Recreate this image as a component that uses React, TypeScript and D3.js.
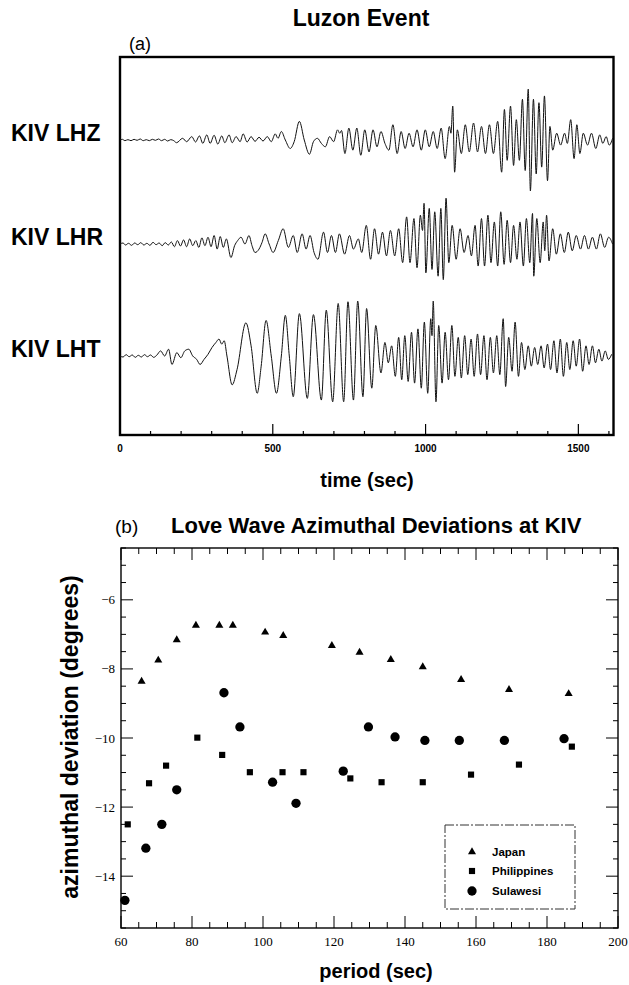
import React from "react";
import * as d3 from "d3";

// ---------- Panel (a): seismogram extrema [time s, amplitude] ----------
const traceNames = ["KIV LHZ", "KIV LHR", "KIV LHT"];

const lhz: [number, number][] = [
  [0,0],[8,2],[16,-2],[26,1],[36,-2],[46,2],[56,-1],[66,3],[76,-2],[86,1],[96,-2],[106,2],[116,-1],[126,3],[136,-2],[146,2],[156,-3],[166,1],[176,-2],
  [185,-8],[205,5],[218,-5],[235,10],[247,-6],[260,12],[271,-10],[284,15],[295,-10],[308,14],[320,-12],[333,12],[343,-8],[357,15],[367,-8],[380,10],[393,-5],[403,18],[416,-6],[429,10],[442,-4],[455,8],[468,-3],[482,10],[495,-5],[508,18],[517,5],[528,25],[541,0],[557,-25],[570,-5],[587,55],[603,0],[620,-42],[633,-5],[646,5],[659,-10],[672,-20],[686,10],[699,-5],[712,30],[719,20],[725,28],[736,-40],[749,35],[762,-30],[775,35],[788,-45],[801,30],[815,-35],[828,30],[841,-20],[854,25],[867,-10],[880,-30],[893,45],[907,-40],[920,25],[933,-25],[946,20],[959,-20],[972,30],[986,-30],[999,30],[1012,-20],[1025,25],[1038,-25],[1051,35],[1064,-55],[1078,40],[1083,20],[1089,100],[1095,-95],[1104,30],[1117,-40],[1130,45],[1143,-35],[1157,50],[1170,-35],[1183,40],[1196,-40],[1209,45],[1222,-40],[1236,55],[1249,-95],[1258,90],[1267,-60],[1278,100],[1288,-75],[1297,60],[1307,-60],[1317,120],[1326,-90],[1336,150],[1343,-150],[1353,120],[1362,-100],[1371,110],[1380,-80],[1389,130],[1399,-120],[1407,40],[1416,-30],[1429,20],[1442,-15],[1455,20],[1464,-10],[1475,60],[1486,-55],[1495,45],[1505,-40],[1516,20],[1530,-15],[1543,20],[1557,-25],[1570,15],[1580,-10],[1591,10],[1601,-15],[1612,5]
];

const lhr: [number, number][] = [
  [0,0],[10,3],[18,-3],[28,2],[38,-4],[48,3],[58,-2],[68,4],[78,-3],[88,2],[98,-4],[108,5],[118,-2],[128,3],[138,-5],[148,4],[158,-3],[168,6],[178,-8],[188,10],[198,-6],[208,12],[218,-8],[228,15],[238,-5],[248,10],[258,-10],[268,18],[278,-5],[288,20],[298,-8],[308,25],[318,-15],[328,22],[338,-10],[348,15],[363,-40],[375,-5],[385,10],[396,20],[409,0],[422,25],[432,-5],[442,-25],[455,-15],[465,5],[475,30],[488,0],[501,-25],[518,10],[534,45],[551,-10],[567,25],[580,-25],[596,30],[609,-15],[622,25],[635,-25],[648,-45],[666,35],[679,-25],[692,25],[705,-25],[718,30],[735,-30],[751,25],[764,-15],[780,15],[791,-25],[806,55],[820,-45],[833,45],[846,-30],[859,35],[872,-35],[885,40],[899,-35],[912,45],[925,-55],[938,80],[949,-55],[962,75],[972,-70],[983,85],[990,40],[995,120],[1001,-85],[1012,105],[1021,-75],[1030,95],[1041,-95],[1050,105],[1058,-105],[1067,135],[1076,-55],[1087,55],[1100,-45],[1113,45],[1126,-25],[1139,25],[1150,-35],[1162,55],[1172,-65],[1183,75],[1193,-65],[1204,85],[1214,-55],[1225,65],[1236,-65],[1246,95],[1257,-60],[1267,70],[1278,-55],[1288,55],[1299,-45],[1309,65],[1320,-65],[1330,75],[1341,-55],[1350,90],[1354,-95],[1364,75],[1375,-55],[1385,65],[1390,-20],[1396,85],[1404,-50],[1416,45],[1428,-30],[1441,30],[1454,-25],[1467,35],[1480,-20],[1493,25],[1507,-15],[1520,25],[1533,-15],[1546,20],[1559,-15],[1572,30],[1586,-10],[1599,20],[1612,0]
];

const lht: [number, number][] = [
  [0,0],[10,-3],[20,4],[30,-2],[40,3],[50,-4],[60,2],[70,-3],[80,4],[90,-2],[100,3],[110,-4],[120,2],[133,15],[146,0],[159,20],[170,-25],[186,10],[199,-5],[212,15],[225,20],[238,0],[251,-10],[262,-25],[275,-10],[288,5],[301,25],[314,40],[324,50],[333,35],[341,45],[350,0],[367,-85],[383,-40],[412,98],[429,30],[449,-110],[462,-30],[478,105],[495,0],[512,-110],[528,0],[541,120],[554,0],[567,-120],[587,125],[613,-125],[633,122],[659,-130],[675,135],[696,-135],[714,155],[732,-135],[746,160],[764,-130],[778,162],[795,-120],[807,140],[824,-95],[837,90],[854,-50],[867,40],[878,-20],[889,30],[901,-60],[912,55],[922,-70],[932,60],[943,-75],[954,70],[964,-80],[975,80],[986,-95],[996,100],[1007,-110],[1017,110],[1021,60],[1025,162],[1034,-135],[1043,90],[1054,-80],[1064,70],[1075,-70],[1086,90],[1096,-60],[1107,55],[1117,-65],[1128,60],[1138,-55],[1149,50],[1159,-60],[1170,65],[1180,-55],[1191,60],[1201,-70],[1212,55],[1222,-50],[1233,60],[1243,-55],[1254,110],[1262,-90],[1272,55],[1283,-45],[1293,100],[1304,-60],[1314,40],[1325,-40],[1336,30],[1346,-30],[1357,25],[1367,-25],[1378,30],[1388,-35],[1399,35],[1409,-40],[1420,45],[1430,-50],[1441,50],[1451,-60],[1462,40],[1472,-40],[1483,45],[1493,-30],[1504,50],[1514,-45],[1525,30],[1535,-25],[1546,30],[1556,-20],[1567,20],[1577,-15],[1588,15],[1598,-10],[1609,5]
];

const timeTicks = d3.range(0, 1601, 100);
const timeLabels = [0, 500, 1000, 1500];

// ---------- Panel (b): azimuthal deviations ----------
const japanPeriod = [65.8, 70.5, 75.7, 81.1, 87.7, 91.5, 100.6, 105.7, 119.4, 127.2, 136.0, 145.0, 155.8, 169.3, 186.1];
const japanDev = [-8.36, -7.75, -7.16, -6.74, -6.74, -6.74, -6.94, -7.04, -7.33, -7.52, -7.73, -7.94, -8.31, -8.6, -8.72];

const philPeriod = [61.9, 67.9, 72.7, 81.5, 88.5, 96.3, 105.5, 111.4, 124.6, 133.4, 145.0, 158.6, 172.1, 187.0];
const philDev = [-12.5, -11.31, -10.8, -9.99, -10.49, -10.99, -10.99, -10.99, -11.17, -11.28, -11.28, -11.06, -10.77, -10.25];

const sulPeriod = [61.1, 67.0, 71.5, 75.7, 89.0, 93.5, 102.7, 109.3, 122.6, 129.7, 137.2, 145.6, 155.3, 168.0, 184.8];
const sulDev = [-14.7, -13.19, -12.5, -11.5, -8.69, -9.68, -11.28, -11.89, -10.96, -9.68, -9.97, -10.07, -10.07, -10.07, -10.02];

const periodTicks = [60, 80, 100, 120, 140, 160, 180, 200];
const devTicks = [-6, -8, -10, -12, -14];
const legendNames = ["Japan", "Philippines", "Sulawesi"];

const SANS = "'Liberation Sans', Arial, Helvetica, sans-serif";
const SERIF = "'Liberation Serif', 'Times New Roman', serif";

export default function App() {
  // panel (a) geometry
  const aLeft = 120, aRight = 613.5, aTop = 57, aBottom = 435;
  const xT = d3.scaleLinear().domain([0, 1615]).range([aLeft, aRight]);
  const baselines = [140, 244, 356];
  const ampPerPx = 2.95;
  const traces = [lhz, lhr, lht];

  const tracePaths = traces.map((tr, i) => {
    const y = d3.scaleLinear().domain([-ampPerPx * 100, ampPerPx * 100]).range([baselines[i] + 100, baselines[i] - 100]);
    const line = d3.line<[number, number]>().x(d => xT(d[0])).y(d => y(d[1])).curve(d3.curveMonotoneX);
    return line(tr) || "";
  });

  // panel (b) geometry
  const bLeft = 121, bRight = 618, bTop = 548, bBottom = 928;
  const xP = d3.scaleLinear().domain([60, 200]).range([bLeft, bRight]);
  const yD = d3.scaleLinear().domain([-15.5, -4.5]).range([bBottom, bTop]);

  const minorX = d3.range(60, 200.1, 5);
  const minorY = d3.range(-15.5, -4.49, 0.5);

  const tri = d3.symbol(d3.symbolTriangle, 28)() || "";
  const sq = d3.symbol(d3.symbolSquare, 38)() || "";
  const circ = d3.symbol(d3.symbolCircle, 68)() || "";

  const legendX = 472;
  const legendRows = [852, 871, 891];
  const legendSyms = [tri, sq, circ];

  return (
    <svg width={629} height={985} style={{ position: "fixed", left: 0, top: 0, background: "#fff" }} xmlns="http://www.w3.org/2000/svg">
      <rect x={0} y={0} width={629} height={985} fill="#fff" />
      {/* ---------- Panel (a) ---------- */}
      <text x={361} y={26} textAnchor="middle" fontFamily={SANS} fontWeight="bold" fontSize={23}>Luzon Event</text>
      <text x={129} y={50} fontFamily={SANS} fontSize={18}>(a)</text>
      <rect x={aLeft} y={aTop} width={aRight - aLeft} height={aBottom - aTop} fill="none" stroke="#000" strokeWidth={2.4} />
      {timeTicks.map(t => (
        <line key={"tt" + t} x1={xT(t)} x2={xT(t)} y1={aBottom} y2={aBottom - (t % 500 === 0 && t > 0 ? 11 : 4)} stroke="#000" strokeWidth={1.2} />
      ))}
      {timeLabels.map(t => (
        <text key={"tl" + t} x={xT(t)} y={452} textAnchor="middle" fontFamily={SANS} fontWeight="bold" fontSize={10}>{t}</text>
      ))}
      <text x={367} y={487} textAnchor="middle" fontFamily={SANS} fontWeight="bold" fontSize={20}>time (sec)</text>
      {traceNames.map((n, i) => (
        <text key={n} x={11} y={baselines[i] + 1} fontFamily={SANS} fontWeight="bold" fontSize={23}>{n}</text>
      ))}
      {tracePaths.map((p, i) => (
        <path key={"tr" + i} d={p} fill="none" stroke="#111" strokeWidth={1} />
      ))}

      {/* ---------- Panel (b) ---------- */}
      <text x={115} y={533} fontFamily={SANS} fontSize={19}>(b)</text>
      <text x={171} y={533} fontFamily={SANS} fontWeight="bold" fontSize={22}>Love Wave Azimuthal Deviations at KIV</text>
      <rect x={bLeft} y={bTop} width={bRight - bLeft} height={bBottom - bTop} fill="none" stroke="#000" strokeWidth={1.4} />
      {minorX.map(v => {
        const major = Math.abs(v % 20) < 1e-6;
        const len = major ? 12 : 6;
        return (
          <g key={"px" + v}>
            <line x1={xP(v)} x2={xP(v)} y1={bBottom} y2={bBottom - len} stroke="#000" strokeWidth={1} />
            <line x1={xP(v)} x2={xP(v)} y1={bTop} y2={bTop + len} stroke="#000" strokeWidth={1} />
          </g>
        );
      })}
      {minorY.map(v => {
        const major = Math.abs(v % 2) < 1e-6;
        const len = major ? 12 : 5;
        return (
          <g key={"py" + v}>
            <line x1={bLeft} x2={bLeft + len} y1={yD(v)} y2={yD(v)} stroke="#000" strokeWidth={1} />
            <line x1={bRight} x2={bRight - len} y1={yD(v)} y2={yD(v)} stroke="#000" strokeWidth={1} />
          </g>
        );
      })}
      {periodTicks.map(v => (
        <text key={"pl" + v} x={xP(v)} y={946} textAnchor="middle" fontFamily={SERIF} fontSize={13}>{v}</text>
      ))}
      {devTicks.map(v => (
        <text key={"dl" + v} x={115} y={yD(v) + 4.5} textAnchor="end" fontFamily={SERIF} fontSize={13}>{"\u2212" + Math.abs(v)}</text>
      ))}
      <text x={376} y={978} textAnchor="middle" fontFamily={SANS} fontWeight="bold" fontSize={20}>period (sec)</text>
      <text transform={`translate(78, ${737}) rotate(-90)`} textAnchor="middle" fontFamily={SANS} fontWeight="bold" fontSize={23}>azimuthal deviation (degrees)</text>

      {japanPeriod.map((p, i) => (
        <path key={"j" + i} d={tri} transform={`translate(${xP(p)},${yD(japanDev[i])})`} fill="#000" />
      ))}
      {philPeriod.map((p, i) => (
        <path key={"p" + i} d={sq} transform={`translate(${xP(p)},${yD(philDev[i])})`} fill="#000" />
      ))}
      {sulPeriod.map((p, i) => (
        <path key={"s" + i} d={circ} transform={`translate(${xP(p)},${yD(sulDev[i])})`} fill="#000" />
      ))}

      {/* legend */}
      <rect x={445} y={825} width={130} height={84} fill="none" stroke="#333" strokeWidth={1} strokeDasharray="9,2,2,2" />
      {legendNames.map((n, i) => (
        <g key={n}>
          <path d={legendSyms[i]} transform={`translate(${legendX},${legendRows[i]})`} fill="#000" />
          <text x={492} y={legendRows[i] + 4} fontFamily={SANS} fontWeight="bold" fontSize={11.5}>{n}</text>
        </g>
      ))}
    </svg>
  );
}
